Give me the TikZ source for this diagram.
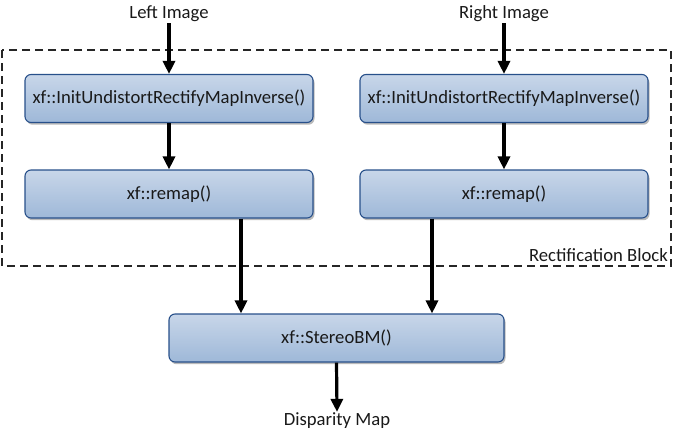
\documentclass[tikz,border=0pt]{standalone}
\usepackage{fontspec}
\setmainfont{Carlito}
\usetikzlibrary{arrows.meta,shadows,calc}
\definecolor{boxtop}{RGB}{200,214,233}
\definecolor{boxbot}{RGB}{158,184,216}
\definecolor{boxline}{RGB}{40,80,138}
\definecolor{txt}{RGB}{25,25,25}
\begin{document}
\begin{tikzpicture}[x=1pt,y=-1pt,
  every node/.style={font=\fontsize{18.67pt}{22pt}\selectfont, text=txt},
  funcbox/.style={draw=boxline, line width=1.1pt, rounded corners=6pt,
    top color=boxtop, bottom color=boxbot, minimum height=48pt,
    inner sep=0pt, drop shadow={shadow xshift=1.5pt, shadow yshift=-2.2pt, fill=black!45, opacity=0.6}},
  labeltext/.style={inner sep=1pt},
  arr/.style={line width=3.2pt, -{Triangle[width=12pt,length=13pt]}},
  blockline/.style={line width=1.2pt, dash pattern=on 8pt off 5pt, black!85}]
\useasboundingbox (0,0) rectangle (674,434);
\draw[blockline] (2,50) rectangle (671,266);
\node[anchor=base east, inner sep=0pt] (blocklabel) at (668,261) {Rectification Block};

\node[labeltext] (limg) at (169,14) {Left Image};
\node[labeltext] (rimg) at (504,14) {Right Image};
\node[funcbox, minimum width=288pt] (linit) at (169,98.5) {xf::InitUndistortRectifyMapInverse()};
\node[funcbox, minimum width=288pt] (rinit) at (504,98.5) {xf::InitUndistortRectifyMapInverse()};
\node[funcbox, minimum width=288pt] (lremap) at (169,194) {xf::remap()};
\node[funcbox, minimum width=288pt] (rremap) at (504,194) {xf::remap()};
\node[funcbox, minimum width=335pt] (stereo) at (336.5,338) {xf::StereoBM()};
\node[labeltext] (disp) at (337,421) {Disparity Map};

\draw[arr] (limg) -- (linit);
\draw[arr] (rimg) -- (rinit);
\draw[arr] (linit) -- (lremap);
\draw[arr] (rinit) -- (rremap);
\coordinate (lout) at ($(lremap.south)+(72,0)$);
\coordinate (rout) at ($(rremap.south)+(-72,0)$);
\draw[arr] (lout) -- (lout |- stereo.north);
\draw[arr] (rout) -- (rout |- stereo.north);
\draw[arr] (stereo.south) -- (disp.north);
\end{tikzpicture}
\end{document}
